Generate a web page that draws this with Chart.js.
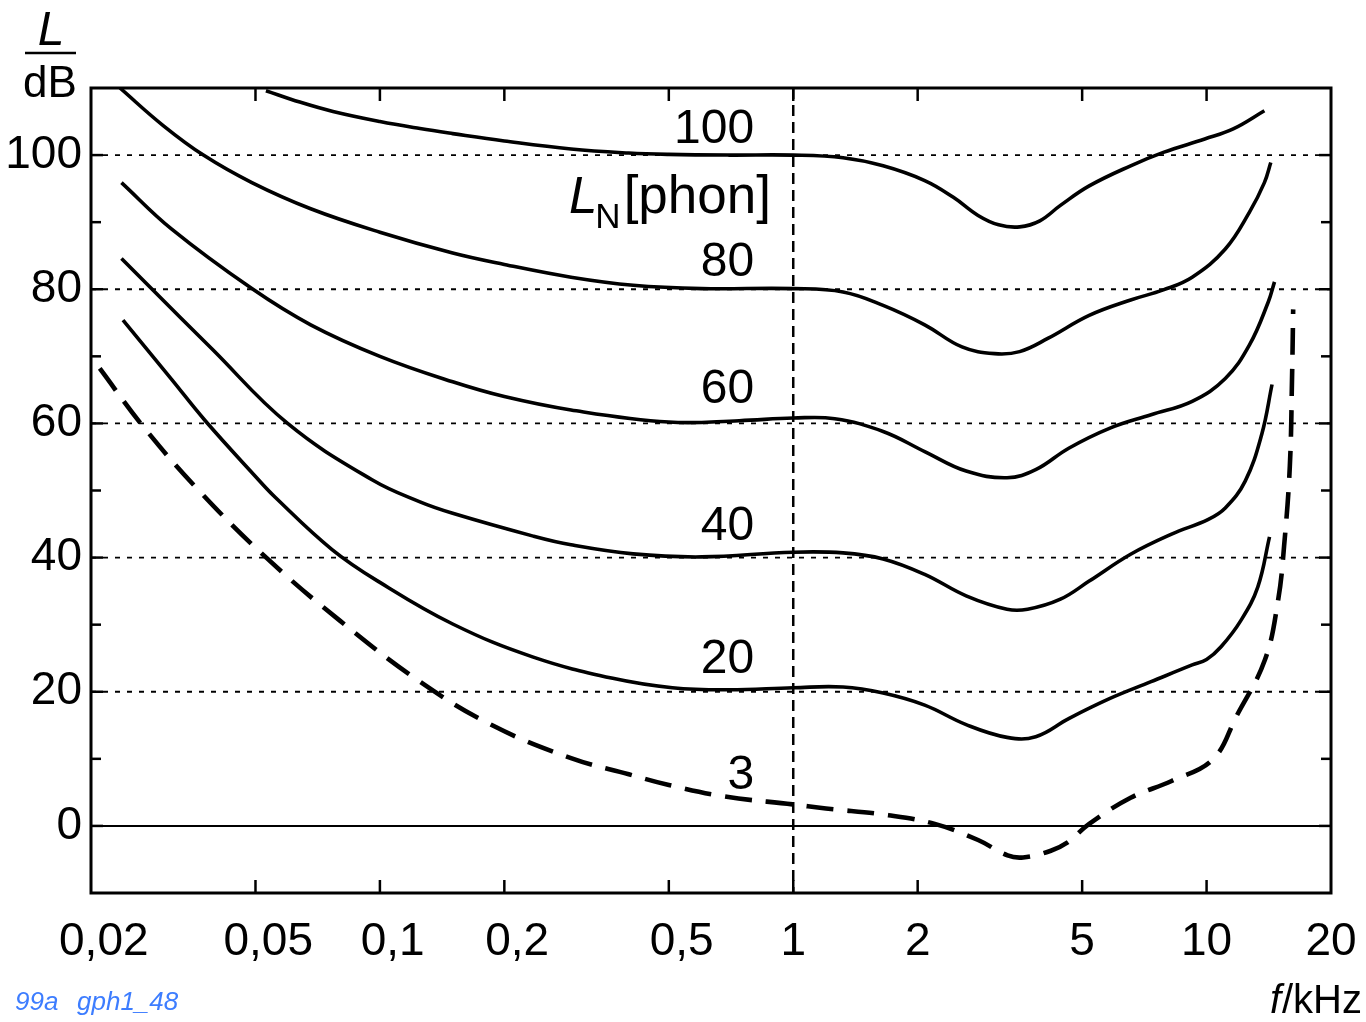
<!DOCTYPE html>
<html>
<head>
<meta charset="utf-8">
<title>Kurven gleicher Lautstärke</title>
<script src="https://cdn.jsdelivr.net/npm/chart.js@4/dist/chart.umd.min.js"></script>
<style>
  html, body { margin: 0; padding: 0; background: #fff; }
  #wrap { width: 1366px; height: 1022px; position: relative; }
  canvas { display: block; }
</style>
</head>
<body>
<div id="wrap"><canvas id="chart" width="1366" height="1022"></canvas></div>
<script>
// Frequency axis ticks (kHz) and their printed labels
const freqTicks  = [0.02, 0.05, 0.1, 0.2, 0.5, 1, 2, 5, 10, 20];
const freqLabels = ['0,02', '0,05', '0,1', '0,2', '0,5', '1', '2', '5', '10', '20'];
// Level axis: labelled values, minor tick values, dotted reference levels
const levelTicks  = [0, 20, 40, 60, 80, 100];
const levelMinor  = [0, 10, 20, 30, 40, 50, 60, 70, 80, 90, 100];
const gridLevels  = [20, 40, 60, 80, 100];

// Equal-loudness contours: frequency (kHz) and sound pressure level (dB)
const f100 = [0.053, 0.064, 0.077, 0.1, 0.125, 0.15, 0.2, 0.29, 0.4, 0.5, 0.7, 1, 1.32, 1.65, 2.08, 2.44, 2.8, 3.14, 3.53, 3.95, 4.43, 5.2, 6.55, 7.86, 9.9, 11.6, 13.8];
const L100 = [109.6, 107.9, 106.5, 105.0, 103.95, 103.2, 102.1, 100.9, 100.3, 100.1, 100.0, 100.0, 99.6, 98.4, 96.2, 93.7, 91.0, 89.6, 89.3, 90.2, 92.5, 95.4, 98.4, 100.4, 102.4, 103.9, 106.6];

const f80 = [0.0235, 0.0299, 0.0374, 0.049, 0.068, 0.1, 0.15, 0.2, 0.29, 0.41, 0.6, 1, 1.32, 1.65, 2.08, 2.56, 3.07, 3.53, 4.14, 5.2, 6.55, 7.86, 9.23, 11.1, 12.7, 13.8, 14.3];
const L80 = [110.0, 104.4, 100.0, 95.9, 92.0, 88.5, 85.4, 83.7, 81.8, 80.6, 80.1, 80.1, 79.6, 77.6, 74.7, 71.4, 70.4, 70.7, 72.7, 76.1, 78.4, 79.9, 81.8, 86.0, 91.5, 95.9, 98.9];

const f60 = [0.0237, 0.0313, 0.049, 0.068, 0.1, 0.15, 0.2, 0.29, 0.5, 0.74, 1, 1.26, 1.65, 2.08, 2.62, 3.29, 3.86, 4.64, 5.84, 7.34, 9.23, 11.1, 12.7, 14.1, 14.6];
const L60 = [95.9, 89.0, 80.1, 74.7, 70.0, 66.2, 64.0, 62.0, 60.2, 60.4, 60.8, 60.7, 58.8, 55.8, 52.9, 51.9, 53.1, 56.3, 59.3, 61.3, 63.3, 66.7, 71.7, 78.1, 81.1];

const f40 = [0.0237, 0.028, 0.0391, 0.0598, 0.0957, 0.125, 0.15, 0.235, 0.29, 0.41, 0.6, 1, 1.32, 1.65, 2.08, 2.62, 3.29, 3.69, 4.43, 5.2, 6.55, 8.23, 10.1, 11.1, 12.4, 13.6, 14.4];
const L40 = [84.6, 80.1, 71.2, 60.0, 51.6, 48.3, 46.6, 43.2, 41.9, 40.55, 40.1, 40.8, 40.7, 39.8, 37.5, 34.3, 32.3, 32.3, 33.8, 36.5, 40.5, 43.5, 45.7, 47.4, 51.4, 58.4, 65.8];

const f20 = [0.0239, 0.0313, 0.0378, 0.05, 0.0558, 0.0766, 0.1, 0.15, 0.234, 0.366, 0.51, 0.7, 1, 1.32, 1.65, 2.08, 2.62, 3.29, 3.86, 4.64, 5.84, 7.34, 9.23, 10.0, 10.84, 12.1, 13.3, 14.2];
const L20 = [75.4, 66.6, 60.4, 52.1, 49.0, 41.2, 36.3, 30.1, 25.2, 22.0, 20.6, 20.3, 20.6, 20.7, 19.8, 18.0, 15.1, 13.2, 13.3, 16.0, 19.0, 21.5, 24.0, 24.8, 26.7, 30.6, 35.6, 43.1];

// Hearing threshold (3 phon), dashed
const f3 = [0.021, 0.0267, 0.0366, 0.0535, 0.08, 0.125, 0.187, 0.29, 0.4, 0.5, 0.68, 1, 1.2, 1.7, 2.2, 2.8, 3.3, 3.6, 4.2, 4.6, 5.2, 6.55, 8.23, 10.35, 11.8, 13.85, 14.9, 15.4, 15.9, 16.1, 16.2];
const L3 = [68.2, 59.6, 49.9, 39.8, 30.6, 21.5, 15.0, 10.1, 7.7, 6.1, 4.4, 3.2, 2.6, 1.6, 0.3, -2.1, -4.4, -4.7, -3.7, -2.5, 0.3, 4.2, 6.7, 9.9, 16.3, 24.8, 33.7, 41.7, 53.6, 67.0, 77.0];

// Contour names printed next to the curves
const phonLabels = ['100', '80', '60', '40', '20', '3'];

const FONT = '"Liberation Sans", Arial, Helvetica, sans-serif';

function toPoints(fs, ls) { return fs.map((f, i) => ({ x: f, y: ls[i] })); }

function solid(fs, ls) {
  return {
    data: toPoints(fs, ls),
    borderColor: '#000',
    borderWidth: 3.6,
    pointRadius: 0,
    fill: false,
    tension: 0.4
  };
}

const datasets = [
  solid(f100, L100),
  solid(f80, L80),
  solid(f60, L60),
  solid(f40, L40),
  solid(f20, L20),
  Object.assign(solid(f3, L3), { borderWidth: 4.6, borderDash: [27, 14] })
];

// Reference lines, frame, inward ticks and the annotations
const decorations = {
  id: 'decorations',
  beforeDatasetsDraw(chart) {
    const { ctx, chartArea: a, scales: { x, y } } = chart;
    ctx.save();
    ctx.strokeStyle = '#000';
    // dotted reference levels
    ctx.lineWidth = 1.8;
    ctx.setLineDash([5, 7]);
    for (const v of gridLevels) {
      const py = y.getPixelForValue(v);
      ctx.beginPath(); ctx.moveTo(a.left, py); ctx.lineTo(a.right, py); ctx.stroke();
    }
    // 0 dB line
    ctx.setLineDash([]);
    ctx.lineWidth = 2;
    const p0 = y.getPixelForValue(0);
    ctx.beginPath(); ctx.moveTo(a.left, p0); ctx.lineTo(a.right, p0); ctx.stroke();
    // 1 kHz reference
    ctx.setLineDash([11, 6]);
    ctx.lineWidth = 2.5;
    const px1 = x.getPixelForValue(1);
    ctx.beginPath(); ctx.moveTo(px1, a.top); ctx.lineTo(px1, a.bottom); ctx.stroke();
    ctx.restore();
  },
  afterDatasetsDraw(chart) {
    const { ctx, chartArea: a, scales: { x, y } } = chart;
    ctx.save();
    ctx.strokeStyle = '#000';
    ctx.setLineDash([]);
    // inward ticks on the level axis (both sides)
    ctx.lineWidth = 2.5;
    for (const v of levelMinor) {
      const py = y.getPixelForValue(v);
      const len = v % 20 === 0 ? 12 : 10;
      ctx.beginPath(); ctx.moveTo(a.left, py); ctx.lineTo(a.left + len, py); ctx.stroke();
      ctx.beginPath(); ctx.moveTo(a.right - len, py); ctx.lineTo(a.right, py); ctx.stroke();
    }
    // inward ticks on the frequency axis (bottom and top)
    for (const v of freqTicks.slice(1, -1)) {
      const px = x.getPixelForValue(v);
      ctx.beginPath(); ctx.moveTo(px, a.bottom); ctx.lineTo(px, a.bottom - 13); ctx.stroke();
      ctx.beginPath(); ctx.moveTo(px, a.top); ctx.lineTo(px, a.top + 13); ctx.stroke();
    }
    // frame
    ctx.lineWidth = 3;
    ctx.strokeRect(a.left, a.top, a.right - a.left, a.bottom - a.top);

    ctx.fillStyle = '#000';
    ctx.textBaseline = 'alphabetic';

    // contour names, right-aligned just left of 1 kHz
    const labelBase = [143, 276, 403, 540, 673, 789];
    const lx = x.getPixelForValue(0.8);
    ctx.textAlign = 'right';
    ctx.font = '48px ' + FONT;
    phonLabels.forEach((t, i) => ctx.fillText(t, lx + 1, labelBase[i]));

    // L_N [phon]
    ctx.font = '53px ' + FONT;
    ctx.textAlign = 'right';
    const phonRight = 771;
    ctx.fillText('[phon]', phonRight, 213);
    const wPhon = ctx.measureText('[phon]').width;
    ctx.font = '35px ' + FONT;
    const nRight = phonRight - wPhon - 3;
    ctx.fillText('N', nRight, 228);
    const wN = ctx.measureText('N').width;
    ctx.font = 'italic 51px ' + FONT;
    ctx.fillText('L', nRight - wN + 2, 213);

    // axis title L / dB
    ctx.textAlign = 'center';
    ctx.font = 'italic 48px ' + FONT;
    ctx.fillText('L', 51, 45);
    ctx.lineWidth = 2.5;
    ctx.beginPath(); ctx.moveTo(25, 53); ctx.lineTo(76, 53); ctx.stroke();
    ctx.font = '44px ' + FONT;
    ctx.fillText('dB', 50, 97);

    // axis title f / kHz
    ctx.textAlign = 'right';
    ctx.font = '40px ' + FONT;
    const kRight = 1362;
    ctx.fillText('kHz', kRight, 1013);
    const wk = ctx.measureText('kHz').width;
    const wsl = ctx.measureText('/').width;
    ctx.fillText('/', kRight - wk, 1013);
    ctx.font = 'italic 40px ' + FONT;
    ctx.fillText('f', kRight - wk - wsl - 1, 1013);

    // figure reference
    ctx.textAlign = 'left';
    ctx.fillStyle = '#3d7dff';
    ctx.font = 'italic 26px ' + FONT;
    ctx.fillText('99a', 15, 1010);
    ctx.fillText('gph1_48', 77, 1010);
    ctx.restore();
  }
};

new Chart(document.getElementById('chart'), {
  type: 'line',
  data: { datasets },
  plugins: [decorations],
  options: {
    responsive: false,
    animation: false,
    devicePixelRatio: 1,
    layout: { padding: { top: 88, right: 35, left: 0, bottom: 0 } },
    plugins: { legend: { display: false }, tooltip: { enabled: false } },
    elements: { line: { borderCapStyle: 'butt', borderJoinStyle: 'round' } },
    scales: {
      x: {
        type: 'logarithmic',
        position: 'bottom',
        min: 0.02,
        max: 20,
        grid: { display: false, drawTicks: false },
        border: { display: false },
        afterBuildTicks: s => { s.ticks = freqTicks.map(v => ({ value: v })); },
        afterFit: s => { s.height = 129; s.paddingLeft = 0; s.paddingRight = 0; },
        ticks: {
          autoSkip: false,
          maxRotation: 0,
          minRotation: 0,
          padding: 22,
          color: '#000',
          font: { family: FONT, size: 46 },
          // decimal labels are padded so that the comma sits on the tick
          callback: (v, i) => {
            const t = freqLabels[i];
            return t.includes(',') ? '\u2007' + t : t;
          }
        }
      },
      y: {
        type: 'linear',
        min: -10,
        max: 110,
        grid: { display: false, drawTicks: false },
        border: { display: false },
        afterBuildTicks: s => { s.ticks = levelTicks.map(v => ({ value: v })); },
        afterFit: s => { s.width = 91; s.paddingTop = 0; s.paddingBottom = 0; },
        ticks: {
          padding: 9,
          color: '#000',
          font: { family: FONT, size: 46 },
          callback: v => String(v)
        }
      }
    }
  }
});
</script>
</body>
</html>
